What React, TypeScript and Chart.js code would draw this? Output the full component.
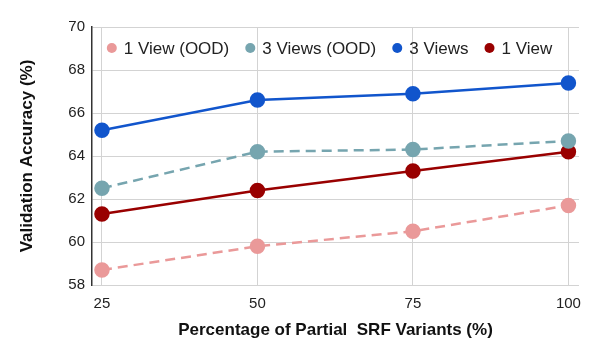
import React, { useEffect, useRef } from "react";
import { Chart, registerables } from "chart.js";

Chart.register(...registerables);

const percentages = [25, 50, 75, 100];
const oneViewOOD = [58.7, 59.8, 60.5, 61.7];
const threeViewsOOD = [62.5, 64.2, 64.3, 64.7];
const threeViews = [65.2, 66.6, 66.9, 67.4];
const oneView = [61.3, 62.4, 63.3, 64.2];
const yTicks = [58, 60, 62, 64, 66, 68, 70];

const toPoints = (vals: number[]) => vals.map((y, i) => ({ x: percentages[i], y }));

const FONT = "Arial, 'Liberation Sans', sans-serif";

const inlineLegend = {
  id: "inlineLegend",
  afterDraw(chart: any) {
    const { ctx, chartArea } = chart;
    const items = chart.data.datasets.map((d: any) => ({ label: d.label, color: d.borderColor }));
    ctx.save();
    ctx.font = `17px ${FONT}`;
    const r = 5;
    const gapText = 7;
    const gapItem = 16;
    const widths = items.map((it: any) => ctx.measureText(it.label).width);
    let total = 0;
    widths.forEach((w: number, i: number) => {
      total += 2 * r + gapText + w + (i < widths.length - 1 ? gapItem : 0);
    });
    const cx = (chartArea.left + chartArea.right) / 2 - 6;
    let x = cx - total / 2;
    const y = chartArea.top + 21;
    ctx.textBaseline = "middle";
    ctx.textAlign = "left";
    items.forEach((it: any, i: number) => {
      ctx.fillStyle = it.color;
      ctx.beginPath();
      ctx.arc(x + r, y, r, 0, Math.PI * 2);
      ctx.fill();
      ctx.fillStyle = "#222";
      ctx.fillText(it.label, x + 2 * r + gapText, y + 1);
      x += 2 * r + gapText + widths[i] + gapItem;
    });
    ctx.restore();
  },
};

export default function App() {
  const ref = useRef<HTMLCanvasElement | null>(null);
  useEffect(() => {
    const ctx = ref.current!;
    const mk = (label: string, vals: number[], color: string, dashed: boolean) => ({
      label,
      data: toPoints(vals),
      borderColor: color,
      backgroundColor: color,
      pointBackgroundColor: color,
      pointBorderColor: color,
      pointRadius: 6.5,
      pointHoverRadius: 6.5,
      borderWidth: 2.5,
      borderDash: dashed ? [10, 6] : [],
      tension: 0,
    });
    const chart = new Chart(ctx, {
      type: "line",
      data: {
        datasets: [
          mk("1 View (OOD)", oneViewOOD, "#ea9999", true),
          mk("3 Views (OOD)", threeViewsOOD, "#76a5af", true),
          mk("3 Views", threeViews, "#1155cc", false),
          mk("1 View", oneView, "#990000", false),
        ],
      },
      plugins: [inlineLegend],
      options: {
        animation: false,
        responsive: false,
        maintainAspectRatio: false,
        layout: { padding: { left: 0, top: 27, right: 13, bottom: 0 } },
        plugins: {
          tooltip: { enabled: false },
          legend: { display: false },
        },
        scales: {
          x: {
            type: "linear",
            min: 23.4,
            max: 101.7,
            afterBuildTicks: (s: any) => {
              s.ticks = percentages.map((v) => ({ value: v }));
            },
            afterFit: (s: any) => {
              s.height = 63;
            },
            grid: { color: "#d3d3d3", drawTicks: false, lineWidth: 1 },
            border: { display: false },
            ticks: {
              padding: 10,
              color: "#222",
              font: { family: FONT, size: 15 },
            },
            title: {
              display: true,
              text: "Percentage of Partial  SRF Variants (%)",
              color: "#111",
              font: { family: FONT, size: 17, weight: "bold" },
              padding: { top: 0, bottom: 7 },
            },
          },
          y: {
            min: 58,
            max: 70,
            afterBuildTicks: (s: any) => {
              s.ticks = yTicks.map((v) => ({ value: v }));
            },
            afterFit: (s: any) => {
              s.width = 92;
            },
            grid: { color: "#d3d3d3", drawTicks: false, lineWidth: 1 },
            border: { display: true, color: "#333", width: 1.5 },
            ticks: {
              padding: 7,
              color: "#222",
              font: { family: FONT, size: 15 },
            },
            title: {
              display: true,
              text: "Validation Accuracy (%)",
              color: "#111",
              font: { family: FONT, size: 17, weight: "bold" },
              padding: { top: 17, bottom: 0 },
            },
          },
        },
      },
    } as any);
    return () => chart.destroy();
  }, []);
  return (
    <div style={{ position: "absolute", left: 0, top: 0, width: 592, height: 348, background: "#fff" }}>
      <canvas ref={ref} width={592} height={348} style={{ width: 592, height: 348, display: "block" }} />
    </div>
  );
}
